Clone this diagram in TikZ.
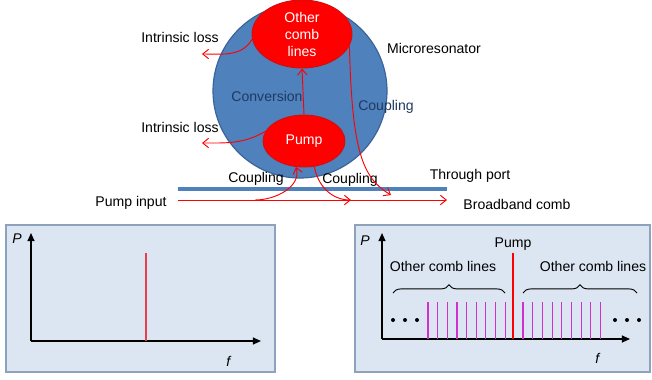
\documentclass[tikz,border=0pt]{standalone}
\usepackage{fontspec}
\setmainfont{Liberation Sans}
\usetikzlibrary{shapes.geometric,arrows.meta,decorations.pathreplacing}

\definecolor{ringblue}{HTML}{4F81BD}
\definecolor{ringedge}{HTML}{3A6396}
\definecolor{modeedge}{HTML}{D01010}
\definecolor{navytext}{HTML}{1F3A60}
\definecolor{panelfill}{HTML}{DCE6F2}
\definecolor{paneledge}{HTML}{8FA2BC}
\definecolor{pumpred}{HTML}{E8404A}
\definecolor{combpink}{HTML}{D22ED2}

\begin{document}
\begin{tikzpicture}[x=0.03cm,y=-0.03cm,font=\fontsize{12}{14.5}\selectfont,
	mode/.style={shape=ellipse,fill=red,draw=modeedge,line width=0.8pt,text=white,align=center,inner sep=0pt},
	flow/.style={draw=red,line width=0.8pt,-{Straight Barb[length=5pt,width=8pt]}},
	panel/.style={fill=panelfill,draw=paneledge,line width=1pt},
	axis/.style={line width=1.2pt,-{Triangle[length=7pt,width=6pt]}},
	combline/.style={draw=combpink,line width=1pt},
	bracket/.style={decorate,decoration={brace,amplitude=7pt},line width=0.8pt}]
	\useasboundingbox (0,0) rectangle (652,379);

	\node[shape=circle,fill=ringblue,draw=ringedge,line width=1pt,minimum size=5.22cm] (ring) at (300,91) {};
	\node[mode,minimum width=3cm,minimum height=2.04cm] (other) at (302,34) {Other\\comb\\lines};
	\node[mode,minimum width=2.46cm,minimum height=1.56cm] (pump) at (304,141) {Pump};

	\node (loss1) at (180,37) {Intrinsic loss};
	\node (loss2) at (180,127) {Intrinsic loss};
	\node (micro) at (434,48) {Microresonator};
	\node[text=navytext] (conv) at (267,96) {Conversion};
	\node[text=navytext] (coupR) at (386,107) {Coupling};
	\node (coupA) at (256,179) {Coupling};
	\node (coupB) at (350,180) {Coupling};
	\node (through) at (470,176) {Through port};
	\node (input) at (131,203) {Pump input};
	\node (comb) at (517,204) {Broadband comb};

	\coordinate (wgL) at (178,189);
	\coordinate (wgR) at (447,189);
	\coordinate (inL) at (178,200);
	\coordinate (inR) at (447,200);
	\coordinate (lossEnd1) at (202,54);
	\coordinate (lossEnd2) at (202,143);
	\coordinate (tap) at (255,200);
	\coordinate (dropB) at (351,200);
	\coordinate (dropR) at (391,195);

	\draw[ringblue,line width=3pt] (wgL) -- (wgR);
	\path (inL) edge[flow] (inR);
	\path (pump.north) edge[flow] (other.south);
	\path (other.186) edge[flow,out=-120,in=0] (lossEnd1);
	\path (pump.166) edge[flow,out=-150,in=0] (lossEnd2);
	\draw[flow] (other.-14) .. controls (352,150) and (362,178) .. (dropR);
	\path (tap) edge[flow,out=0,in=-75] (pump.-107);
	\path (pump.-68) edge[flow,out=-80,in=180] (dropB);

	\draw[panel] (6,225) rectangle (275,372);
	\coordinate (o1) at (31,341);
	\coordinate (y1) at (31,233);
	\coordinate (x1) at (261,341);
	\draw[axis] (o1) -- (y1);
	\draw[axis] (o1) -- (x1);
	\node (P1) at (17,239) {\textit{P}};
	\node (f1) at (229,361) {\textit{f}};
	\draw[pumpred,line width=1.2pt] (146,253) -- (146,341);

	\draw[panel] (355,225) rectangle (650,372);
	\coordinate (o2) at (382,339);
	\coordinate (y2) at (382,233);
	\coordinate (x2) at (630,339);
	\draw[axis] (o2) -- (y2);
	\draw[axis] (o2) -- (x2);
	\node (P2) at (365,241) {\textit{P}};
	\node (f2) at (598,358) {\textit{f}};
	\foreach \i in {0,...,8} {
		\draw[combline] (428+9.65*\i,302) -- (428+9.65*\i,339);
		\draw[combline] (523+9.7*\i,302) -- (523+9.7*\i,339);
	}
	\draw[red,line width=1.5pt] (513,253) -- (513,339);
	\node (pumpLbl) at (513,244) {Pump};
	\foreach \x in {393,405,417,615,627,639}
		\fill (\x,320) circle (2);
	\draw[bracket] (393,293) -- (505,293);
	\draw[bracket] (523,293) -- (637,293);
	\node (leftLines) at (443,266) {Other comb lines};
	\node (rightLines) at (593,266) {Other comb lines};
\end{tikzpicture}
\end{document}
